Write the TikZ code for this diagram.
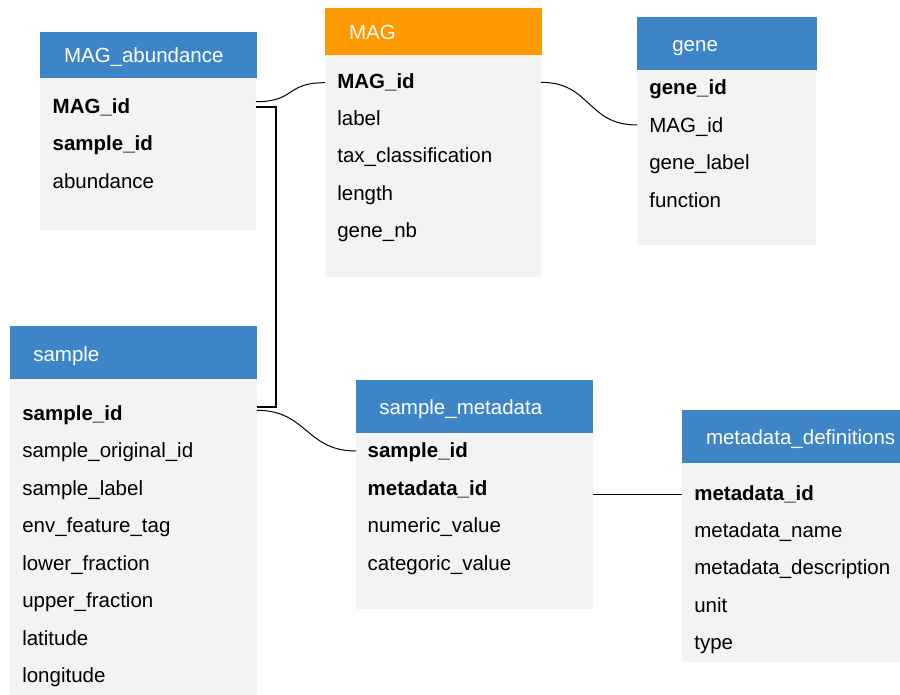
\documentclass[tikz,border=0pt]{standalone}
\usepackage{fontspec}
\setmainfont{Liberation Sans}
\definecolor{hblue}{HTML}{3D85C6}
\definecolor{horange}{HTML}{FF9900}
\definecolor{bgray}{HTML}{F3F3F3}
\newcommand{\fsz}{\fontsize{20.5}{24}\selectfont}
\tikzset{
  tbox/.style={anchor=north west, inner sep=0pt, outer sep=0pt, draw=none},
  hbox/.style={tbox, fill=hblue},
  obox/.style={tbox, fill=horange},
  bbox/.style={tbox, fill=bgray},
  txt/.style={anchor=base west, inner sep=0pt, outer sep=0pt, font=\fsz, text=black},
  ttl/.style={txt, text=white},
  key/.style={txt, font=\fsz\bfseries},
  conn/.style={draw=black, line width=1pt},
  thickconn/.style={draw=black, line width=2pt}
}
\begin{document}
\begin{tikzpicture}[x=1pt,y=-1pt]
\useasboundingbox[fill=white] (0,0) rectangle (900,695);

% MAG_abundance
\node[bbox, minimum width=216pt, minimum height=152pt] (mabb) at (40,78) {};
\node[hbox, minimum width=216.7pt, minimum height=46pt] (mabh) at (40,32) {};
\node[ttl] (mabt) at (64,62.7) {MAG\_abundance};
\node[key] (mabr1) at (52.7,113.3) {MAG\_id};
\node[key] (mabr2) at (52.7,151) {sample\_id};
\node[txt] (mabr3) at (52.7,188.7) {abundance};

% MAG
\node[bbox, minimum width=216pt, minimum height=221.7pt] (magb) at (325,55) {};
\node[obox, minimum width=217pt, minimum height=47pt] (magh) at (325,8) {};
\node[ttl] (magt) at (349,39.3) {MAG};
\node[key] (magr1) at (337.3,88.3) {MAG\_id};
\node[txt] (magr2) at (337.3,125.7) {label};
\node[txt] (magr3) at (337.3,163) {tax\_classification};
\node[txt] (magr4) at (337.3,200.5) {length};
\node[txt] (magr5) at (337.3,237.9) {gene\_nb};

% gene
\node[bbox, minimum width=179pt, minimum height=175pt] (geneb) at (637,70) {};
\node[hbox, minimum width=180pt, minimum height=53pt] (geneh) at (637,17) {};
\node[ttl] (genet) at (672.3,51.7) {gene};
\node[key] (gener1) at (649.3,95) {gene\_id};
\node[txt] (gener2) at (649.3,132.5) {MAG\_id};
\node[txt] (gener3) at (649.3,170) {gene\_label};
\node[txt] (gener4) at (649.3,207.5) {function};

% sample
\node[bbox, minimum width=247pt, minimum height=316pt] (smpb) at (10,379) {};
\node[hbox, minimum width=247pt, minimum height=53pt] (smph) at (10,326) {};
\node[ttl] (smpt) at (33.3,361) {sample};
\node[key] (smpr1) at (22.3,420) {sample\_id};
\node[txt] (smpr2) at (22.3,457.6) {sample\_original\_id};
\node[txt] (smpr3) at (22.3,495.1) {sample\_label};
\node[txt] (smpr4) at (22.3,532.6) {env\_feature\_tag};
\node[txt] (smpr5) at (22.3,570.1) {lower\_fraction};
\node[txt] (smpr6) at (22.3,607.6) {upper\_fraction};
\node[txt] (smpr7) at (22.3,645.1) {latitude};
\node[txt] (smpr8) at (22.3,682.5) {longitude};

% sample_metadata
\node[bbox, minimum width=237pt, minimum height=176pt] (smb) at (356,433) {};
\node[hbox, minimum width=237pt, minimum height=53pt] (smh) at (356,380) {};
\node[ttl] (smt) at (379.3,414.3) {sample\_metadata};
\node[key] (smr1) at (367.7,457.7) {sample\_id};
\node[key] (smr2) at (367.7,495.2) {metadata\_id};
\node[txt] (smr3) at (367.7,532.7) {numeric\_value};
\node[txt] (smr4) at (367.7,570.2) {categoric\_value};

% metadata_definitions
\node[bbox, minimum width=218pt, minimum height=198.7pt] (mdb) at (682,463) {};
\node[hbox, minimum width=218pt, minimum height=53pt] (mdh) at (682,410) {};
\node[ttl] (mdt) at (706,444.3) {metadata\_definitions};
\node[key] (mdr1) at (694.3,500) {metadata\_id};
\node[txt] (mdr2) at (694.3,537.4) {metadata\_name};
\node[txt] (mdr3) at (694.3,574.9) {metadata\_description};
\node[txt] (mdr4) at (694.3,612.3) {unit};
\node[txt] (mdr5) at (694.3,649.7) {type};

% connection points
\coordinate (c1a) at (mabb.east |- 0,101.7);
\coordinate (c1b) at (magb.west |- 0,82.7);
\coordinate (c2a) at (magb.east |- 0,82.3);
\coordinate (c2b) at (geneb.west |- 0,125);
\coordinate (c3a) at (mabb.east |- 0,106.7);
\coordinate (c3m) at (276.3,106.7);
\coordinate (c3n) at (276.3,406.7);
\coordinate (c3b) at (smpb.east |- 0,406.7);
\coordinate (c4a) at (smpb.east |- 0,410.3);
\coordinate (c4b) at (smb.west |- 0,451);
\coordinate (c5a) at (smb.east |- 0,494);
\coordinate (c5b) at (mdb.west |- 0,494);

\draw[conn] (c1a) .. controls +(40,0) and +(-40,0) .. (c1b);
\draw[conn] (c2a) .. controls +(50,0) and +(-50,0) .. (c2b);
\draw[thickconn] (c3a) -- (c3m) -- (c3n) -- (c3b);
\draw[conn] (c4a) .. controls +(50,0) and +(-50,0) .. (c4b);
\draw[conn] (c5a) -- (c5b);
\end{tikzpicture}
\end{document}
